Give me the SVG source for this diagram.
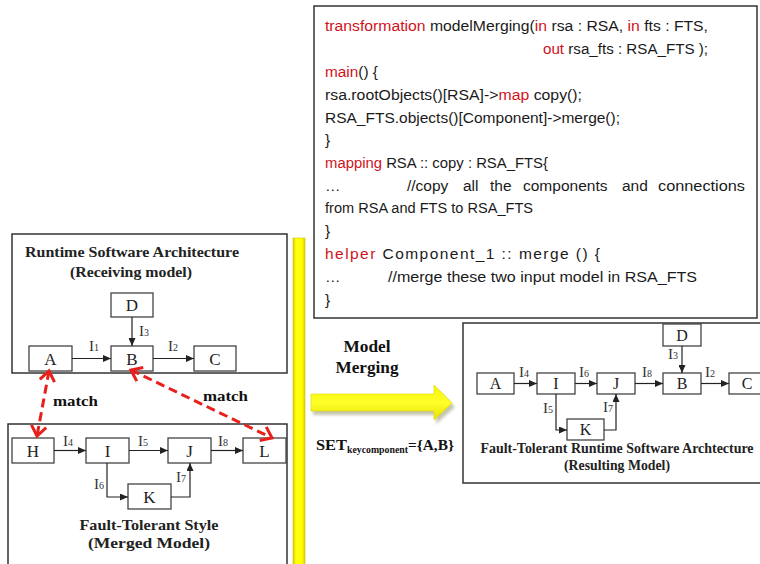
<svg xmlns="http://www.w3.org/2000/svg" width="760" height="564" viewBox="0 0 760 564">
<style>
.code{font-family:"Liberation Sans",Arial,sans-serif;font-size:15.5px;fill:#1a1a1a}
.kw{fill:#d0121b}
.box{fill:#fff;stroke:#333;stroke-width:1.5}
.node{fill:#fff;stroke:#444;stroke-width:1.3}
.nl{font-family:"Liberation Serif","Times New Roman",serif;font-size:17px;fill:#222;text-anchor:middle}
.nl2{font-family:"Liberation Serif","Times New Roman",serif;font-size:16px;fill:#222;text-anchor:middle}
.lbl{font-family:"Liberation Serif","Times New Roman",serif;font-size:15px;fill:#333}
.sub{font-size:10px}
.ttl{font-family:"Liberation Serif","Times New Roman",serif;font-weight:bold;font-size:14.5px;fill:#222;text-anchor:middle}
.bold{font-family:"Liberation Serif","Times New Roman",serif;font-weight:bold;fill:#111}
.con{fill:none;stroke:#222;stroke-width:1.2;marker-end:url(#ah)}
.match{fill:none;stroke:#e8201c;stroke-width:3;stroke-dasharray:9,5;marker-start:url(#rh);marker-end:url(#rh)}
</style>
<defs>
<marker id="ah" markerUnits="userSpaceOnUse" markerWidth="8" markerHeight="7" refX="8" refY="3.5" orient="auto">
<path d="M0,0 L8,3.5 L0,7 z" fill="#222"/>
</marker>
<marker id="rh" markerUnits="userSpaceOnUse" markerWidth="16" markerHeight="18" refX="12" refY="9" orient="auto-start-reverse">
<path d="M2,1.5 L12,9 L2,16.5" fill="none" stroke="#e8201c" stroke-width="3"/>
</marker>
<linearGradient id="ybar" x1="0" y1="0" x2="1" y2="0">
<stop offset="0" stop-color="#d9cc00"/>
<stop offset="0.25" stop-color="#ffff10"/>
<stop offset="0.75" stop-color="#ffff00"/>
<stop offset="1" stop-color="#d9cc00"/>
</linearGradient>
<linearGradient id="yarr" x1="0" y1="0" x2="0" y2="1">
<stop offset="0" stop-color="#f4f400"/>
<stop offset="0.5" stop-color="#ffff2a"/>
<stop offset="1" stop-color="#e6e000"/>
</linearGradient>
<filter id="sh" x="-10%" y="-20%" width="130%" height="160%">
<feGaussianBlur stdDeviation="1.5"/>
</filter>
</defs>

<!-- code box -->
<g id="code">
<rect class="box" x="314" y="6" width="443" height="312"/>
<text class="code" x="325" y="31" textLength="383" lengthAdjust="spacingAndGlyphs"><tspan class="kw">transformation</tspan> modelMerging(<tspan class="kw">in</tspan> rsa : RSA, <tspan class="kw">in</tspan> fts : FTS,</text>
<text class="code" x="543" y="54" textLength="165" lengthAdjust="spacingAndGlyphs"><tspan class="kw">out</tspan> rsa_fts : RSA_FTS );</text>
<text class="code" x="325" y="77" textLength="53" lengthAdjust="spacingAndGlyphs"><tspan class="kw">main</tspan>() {</text>
<text class="code" x="325" y="100" textLength="257" lengthAdjust="spacingAndGlyphs">rsa.rootObjects()[RSA]-&gt;<tspan class="kw">map</tspan> copy();</text>
<text class="code" x="325" y="123" textLength="295" lengthAdjust="spacingAndGlyphs">RSA_FTS.objects()[Component]-&gt;merge();</text>
<text class="code" x="325" y="145">}</text>
<text class="code" x="325" y="168" textLength="223" lengthAdjust="spacingAndGlyphs"><tspan class="kw">mapping</tspan> RSA :: copy : RSA_FTS{</text>
<text class="code" x="325" y="191">…</text>
<text class="code" x="407" y="191">//copy</text>
<text class="code" x="463" y="191">all</text>
<text class="code" x="490" y="191">the</text>
<text class="code" x="523" y="191">components</text>
<text class="code" x="622" y="191">and</text>
<text class="code" x="658" y="191" textLength="87" lengthAdjust="spacingAndGlyphs">connections</text>
<text class="code" x="325" y="213" textLength="208" lengthAdjust="spacingAndGlyphs">from RSA and FTS to RSA_FTS</text>
<text class="code" x="325" y="236">}</text>
<text class="code" x="325" y="259" textLength="275" lengthAdjust="spacing"><tspan class="kw">helper</tspan> Component_1 :: merge () {</text>
<text class="code" x="325" y="282">…</text>
<text class="code" x="388" y="282" textLength="309" lengthAdjust="spacingAndGlyphs">//merge these two input model in RSA_FTS</text>
<text class="code" x="325" y="305">}</text>
</g>

<!-- yellow bar -->
<g id="divider">
<rect x="293" y="238" width="12" height="330" fill="url(#ybar)" stroke="#cfc200" stroke-width="0.6"/>
</g>

<!-- Runtime Software Architecture box -->
<g id="rsa">
<rect class="box" x="12" y="234" width="275" height="139"/>
<text class="ttl" x="132" y="257" textLength="214" lengthAdjust="spacingAndGlyphs">Runtime Software Architecture</text>
<text class="ttl" x="131" y="277" textLength="122" lengthAdjust="spacingAndGlyphs">(Receiving model)</text>
</g>
<g id="rsa-D"><rect class="node" x="111" y="293" width="42" height="24"/><text class="nl" x="132" y="311">D</text></g>
<g id="rsa-A"><rect class="node" x="29" y="346" width="43" height="25"/><text class="nl" x="50.5" y="365">A</text></g>
<g id="rsa-B"><rect class="node" x="111" y="346" width="42" height="25"/><text class="nl" x="132" y="365">B</text></g>
<g id="rsa-C"><rect class="node" x="194" y="346" width="42" height="25"/><text class="nl" x="215" y="365">C</text></g>

<!-- Fault-Tolerant Style box -->
<g id="fts">
<rect class="box" x="8" y="424" width="279" height="150"/>
<text class="ttl" x="149" y="530" textLength="139" lengthAdjust="spacingAndGlyphs">Fault-Tolerant Style</text>
<text class="ttl" x="149" y="548" textLength="122" lengthAdjust="spacingAndGlyphs">(Merged Model)</text>
</g>
<g id="fts-H"><rect class="node" x="12" y="438" width="42" height="25"/><text class="nl" x="33" y="457">H</text></g>
<g id="fts-I"><rect class="node" x="86" y="438" width="43" height="25"/><text class="nl" x="107.5" y="457">I</text></g>
<g id="fts-J"><rect class="node" x="168" y="438" width="43" height="25"/><text class="nl" x="189.5" y="457">J</text></g>
<g id="fts-L"><rect class="node" x="243" y="438" width="43" height="25"/><text class="nl" x="264.5" y="457">L</text></g>
<g id="fts-K"><rect class="node" x="128" y="484" width="43" height="25"/><text class="nl" x="149.5" y="503">K</text></g>

<!-- Result box -->
<g id="result">
<rect class="box" x="463" y="323" width="310" height="160"/>
<text class="ttl" x="617" y="453" font-size="13.5" textLength="273" lengthAdjust="spacingAndGlyphs">Fault-Tolerant Runtime Software Archtecture</text>
<text class="ttl" x="617" y="470" font-size="13.5" textLength="106" lengthAdjust="spacingAndGlyphs">(Resulting Model)</text>
</g>
<g id="res-A"><rect class="node" x="477" y="373" width="37" height="21"/><text class="nl2" x="495.5" y="389">A</text></g>
<g id="res-I"><rect class="node" x="537" y="373" width="38" height="21"/><text class="nl2" x="556" y="389">I</text></g>
<g id="res-J"><rect class="node" x="597" y="373" width="38" height="21"/><text class="nl2" x="616" y="389">J</text></g>
<g id="res-B"><rect class="node" x="663" y="373" width="38" height="21"/><text class="nl2" x="682" y="389">B</text></g>
<g id="res-C"><rect class="node" x="729" y="373" width="40" height="21"/><text class="nl2" x="747" y="389">C</text></g>
<g id="res-D"><rect class="node" x="663" y="324" width="38" height="22"/><text class="nl2" x="682" y="341">D</text></g>
<g id="res-K"><rect class="node" x="567" y="419" width="37" height="21"/><text class="nl2" x="585.5" y="435">K</text></g>

<!-- connectors -->
<g id="connectors">
<line class="con" x1="132" y1="317" x2="132" y2="346"/>
<line class="con" x1="72" y1="358.5" x2="111" y2="358.5"/>
<line class="con" x1="153" y1="358.5" x2="194" y2="358.5"/>
<line class="con" x1="54" y1="450.5" x2="86" y2="450.5"/>
<line class="con" x1="129" y1="450.5" x2="168" y2="450.5"/>
<line class="con" x1="211" y1="450.5" x2="243" y2="450.5"/>
<polyline class="con" points="107,463 107,497 128,497"/>
<polyline class="con" points="171,497 190,497 190,463"/>
<line class="con" x1="514" y1="383.5" x2="537" y2="383.5"/>
<line class="con" x1="575" y1="383.5" x2="597" y2="383.5"/>
<line class="con" x1="635" y1="383.5" x2="663" y2="383.5"/>
<line class="con" x1="701" y1="383.5" x2="729" y2="383.5"/>
<line class="con" x1="682" y1="346" x2="682" y2="373"/>
<polyline class="con" points="556,394 556,430 567,430"/>
<polyline class="con" points="604,430 616,430 616,394"/>
<line class="match" x1="49" y1="371" x2="37" y2="436"/>
<line class="match" x1="131" y1="370" x2="272" y2="438"/>
<text class="lbl" x="89" y="351">I<tspan class="sub">1</tspan></text>
<text class="lbl" x="168" y="351">I<tspan class="sub">2</tspan></text>
<text class="lbl" x="139" y="336">I<tspan class="sub">3</tspan></text>
<text class="lbl" x="63" y="446">I<tspan class="sub">4</tspan></text>
<text class="lbl" x="138" y="446">I<tspan class="sub">5</tspan></text>
<text class="lbl" x="218" y="446">I<tspan class="sub">8</tspan></text>
<text class="lbl" x="94" y="489">I<tspan class="sub">6</tspan></text>
<text class="lbl" x="176" y="482">I<tspan class="sub">7</tspan></text>
<text class="lbl" x="519" y="377" font-size="14">I<tspan class="sub">4</tspan></text>
<text class="lbl" x="579" y="377" font-size="14">I<tspan class="sub">6</tspan></text>
<text class="lbl" x="642" y="377" font-size="14">I<tspan class="sub">8</tspan></text>
<text class="lbl" x="705" y="377" font-size="14">I<tspan class="sub">2</tspan></text>
<text class="lbl" x="668" y="359" font-size="14">I<tspan class="sub">3</tspan></text>
<text class="lbl" x="543" y="413" font-size="14">I<tspan class="sub">5</tspan></text>
<text class="lbl" x="603" y="412" font-size="14">I<tspan class="sub">7</tspan></text>
<text class="bold" x="53" y="406" font-size="14.5" textLength="45" lengthAdjust="spacingAndGlyphs">match</text>
<text class="bold" x="203" y="401" font-size="14.5" textLength="45" lengthAdjust="spacingAndGlyphs">match</text>
</g>

<!-- model merging arrow -->
<g id="merge-arrow">
<path d="M313,398 L436,398 L436,389 L455,407 L436,424 L436,415 L313,415 z" fill="#8a8a60" opacity="0.5" filter="url(#sh)"/>
<path d="M311,394 L434,394 L434,385 L452,403 L434,420 L434,411 L311,411 z" fill="url(#yarr)" stroke="#e0d800" stroke-width="0.6"/>
<text class="bold" x="367" y="352" font-size="16" text-anchor="middle" textLength="47" lengthAdjust="spacingAndGlyphs">Model</text>
<text class="bold" x="367" y="373" font-size="16" text-anchor="middle" textLength="63" lengthAdjust="spacingAndGlyphs">Merging</text>
<text class="bold" x="316" y="450" font-size="15" textLength="31" lengthAdjust="spacingAndGlyphs">SET</text>
<text class="bold" x="347" y="453" font-size="9.5" textLength="61" lengthAdjust="spacingAndGlyphs">keycomponent</text>
<text class="bold" x="408" y="450" font-size="15" textLength="46" lengthAdjust="spacingAndGlyphs">={A,B}</text>
</g>
</svg>
